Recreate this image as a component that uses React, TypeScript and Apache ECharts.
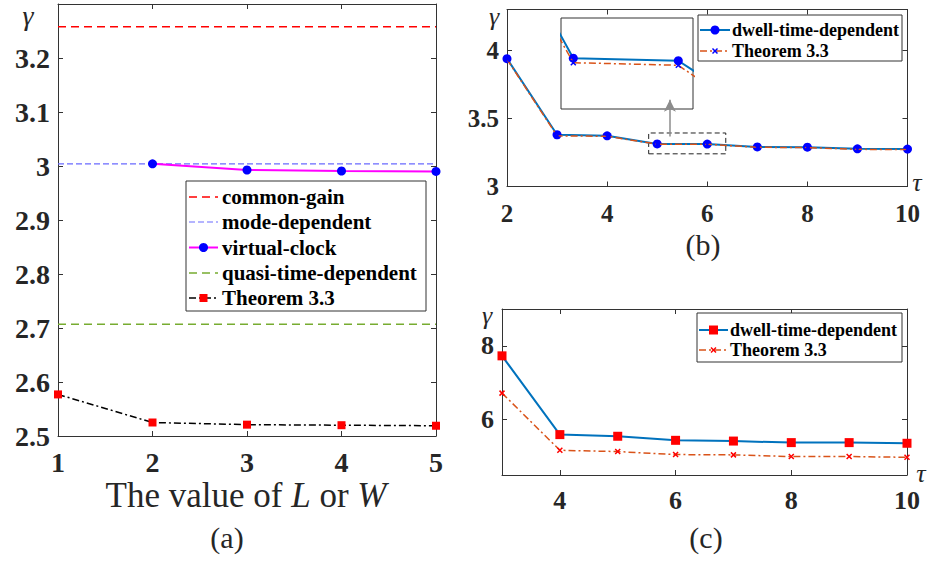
import React, { useEffect, useRef } from 'react';
import * as echarts from 'echarts';

// ---------- data ----------
// Panel (a)
const xA = [1, 2, 3, 4, 5];
const commonGainA = [3.258, 3.258, 3.258, 3.258, 3.258];
const modeDepA = [3.004, 3.004, 3.004, 3.004, 3.004];
const xVirtualA = [2, 3, 4, 5];
const virtualClockA = [3.004, 2.9926, 2.9907, 2.99];
const quasiA = [2.707, 2.707, 2.707, 2.707, 2.707];
const theoremA = [2.577, 2.525, 2.521, 2.52, 2.519];
const yTicksA = [2.5, 2.6, 2.7, 2.8, 2.9, 3, 3.1, 3.2];
const xTicksA = [1, 2, 3, 4, 5];

// Panel (b)
const tauB = [2, 3, 4, 5, 6, 7, 8, 9, 10];
const dwellB = [3.939, 3.38, 3.372, 3.3125, 3.3117, 3.2903, 3.289, 3.277, 3.275];
const theoremB = [3.934, 3.372, 3.369, 3.3111, 3.3103, 3.288, 3.286, 3.273, 3.271];
const yTicksB = [3, 3.5, 4];
const xTicksB = [2, 4, 6, 8, 10];
const zoomBoxX = [4.83, 6.37];
const zoomBoxY = [3.24, 3.393];
const insetX = [4.883, 6.14];
const insetY = [3.2967, 3.325];
const arrowX = 5.254;
const arrowY = [3.368, 3.6375];

// Panel (c)
const tauC = [3, 4, 5, 6, 7, 8, 9, 10];
const dwellC = [7.73, 5.595, 5.55, 5.44, 5.42, 5.378, 5.378, 5.36];
const theoremC = [6.72, 5.17, 5.135, 5.054, 5.045, 5.0, 5.0, 4.98];
const yTicksC = [6, 8];
const xTicksC = [4, 6, 8, 10];

const FONT = "'Liberation Serif'";
const AX = '#333333';
const TXT = '#262626';
const X_SYMBOL = 'path://M0,0L10,10M10,0L0,10';

const zip = (xs: number[], ys: number[]) => xs.map((x, i) => [x, ys[i]]);

function xAxisPair(grid: number, min: number, max: number, ticks: number[], fontSize: number, margin: number) {
  const common = {
    type: 'value', gridIndex: grid, min, max,
    axisLine: { show: true, onZero: false, lineStyle: { color: AX, width: 1 } },
    axisTick: { show: true, inside: true, length: 5, customValues: ticks, lineStyle: { color: AX } },
    splitLine: { show: false },
  };
  return [
    { ...common, position: 'bottom',
      axisLabel: { customValues: ticks, color: TXT, fontFamily: FONT, fontWeight: 'bold', fontSize, margin } },
    { ...common, position: 'top', axisLabel: { show: false } },
  ];
}

function yAxisPair(grid: number, min: number, max: number, ticks: number[], fontSize: number, margin: number) {
  const common = {
    type: 'value', gridIndex: grid, min, max,
    axisLine: { show: true, onZero: false, lineStyle: { color: AX, width: 1 } },
    axisTick: { show: true, inside: true, length: 5, customValues: ticks, lineStyle: { color: AX } },
    splitLine: { show: false },
  };
  return [
    { ...common, position: 'left',
      axisLabel: { customValues: ticks, color: TXT, fontFamily: FONT, fontWeight: 'bold', fontSize, margin } },
    { ...common, position: 'right', axisLabel: { show: false } },
  ];
}

type LegItem = {
  name: string; color: string; dash?: number[]; width: number;
  marker?: 'circle' | 'rect' | 'x'; markerColor?: string; markerSize?: number;
};

function legend(x: number, y: number, w: number, h: number, items: LegItem[], rowY: number[], lineX: [number, number], textX: number, fontSize: number) {
  const els: any[] = [{
    type: 'rect', shape: { x, y, width: w, height: h },
    style: { fill: '#fff', stroke: AX, lineWidth: 1 }, z: 100,
  }];
  items.forEach((it, i) => {
    const cy = rowY[i];
    els.push({
      type: 'line', shape: { x1: lineX[0], y1: cy, x2: lineX[1], y2: cy },
      style: { stroke: it.color, lineWidth: it.width, lineDash: it.dash || null }, z: 101,
    });
    const mx = (lineX[0] + lineX[1]) / 2;
    const s = it.markerSize || 8;
    if (it.marker === 'circle') {
      els.push({ type: 'circle', shape: { cx: mx, cy, r: s / 2 }, style: { fill: it.markerColor }, z: 102 });
    } else if (it.marker === 'rect') {
      els.push({ type: 'rect', shape: { x: mx - s / 2, y: cy - s / 2, width: s, height: s }, style: { fill: it.markerColor }, z: 102 });
    } else if (it.marker === 'x') {
      els.push({ type: 'line', shape: { x1: mx - s / 2, y1: cy - s / 2, x2: mx + s / 2, y2: cy + s / 2 }, style: { stroke: it.markerColor, lineWidth: 1.5 }, z: 102 });
      els.push({ type: 'line', shape: { x1: mx - s / 2, y1: cy + s / 2, x2: mx + s / 2, y2: cy - s / 2 }, style: { stroke: it.markerColor, lineWidth: 1.5 }, z: 102 });
    }
    els.push({
      type: 'text', x: textX, y: cy, z: 102,
      style: { text: it.name, fill: '#000', fontFamily: FONT, fontWeight: 'bold', fontSize, align: 'left', verticalAlign: 'middle' },
    });
  });
  return els;
}

function label(text: string, x: number, y: number, size: number, italic = false) {
  const style: any = { text, fill: TXT, fontFamily: FONT, fontSize: size, align: 'center', verticalAlign: 'middle' };
  if (italic) style.fontStyle = 'italic';
  return { type: 'text', x, y, z: 50, style };
}

export default function App() {
  const ref = useRef<HTMLDivElement>(null);

  useEffect(() => {
    if (!ref.current) return;
    const chart = echarts.init(ref.current, undefined, { renderer: 'svg' });

    const xAxis = [
      ...xAxisPair(0, 1, 5, xTicksA, 28, 12),
      ...xAxisPair(1, 2, 10, xTicksB, 25, 14),
      { type: 'value', gridIndex: 2, min: insetX[0], max: insetX[1], show: false },
      ...xAxisPair(3, 3, 10, xTicksC, 26, 12),
    ];
    const yAxis = [
      ...yAxisPair(0, 2.5, 3.3, yTicksA, 28, 8),
      ...yAxisPair(1, 3, 4.3, yTicksB, 25, 8),
      { type: 'value', gridIndex: 2, min: insetY[0], max: insetY[1], show: false },
      ...yAxisPair(3, 4.5, 9, yTicksC, 26, 8),
    ];

    const dashDot = [7, 3, 2, 3];

    const series: any[] = [
      // (a)
      { name: 'common-gain', type: 'line', xAxisIndex: 0, yAxisIndex: 0, data: zip(xA, commonGainA), symbol: 'none',
        lineStyle: { color: '#ff0000', width: 1.5, type: [8, 5] } },
      { name: 'mode-dependent', type: 'line', xAxisIndex: 0, yAxisIndex: 0, data: zip(xA, modeDepA), symbol: 'none',
        lineStyle: { color: '#6a6aff', width: 1.2, type: [6, 3] } },
      { name: 'virtual-clock', type: 'line', xAxisIndex: 0, yAxisIndex: 0, data: zip(xVirtualA, virtualClockA),
        symbol: 'circle', symbolSize: 9, itemStyle: { color: '#0000ff' },
        lineStyle: { color: '#ff00ff', width: 2 } },
      { name: 'quasi-time-dependent', type: 'line', xAxisIndex: 0, yAxisIndex: 0, data: zip(xA, quasiA), symbol: 'none',
        lineStyle: { color: '#77ac30', width: 1.5, type: [8, 5] } },
      { name: 'Theorem 3.3', type: 'line', xAxisIndex: 0, yAxisIndex: 0, data: zip(xA, theoremA),
        symbol: 'rect', symbolSize: 8, itemStyle: { color: '#ff0000' },
        lineStyle: { color: '#000000', width: 1.5, type: dashDot } },
      // (b)
      { name: 'dwell-time-dependent', type: 'line', xAxisIndex: 2, yAxisIndex: 2, data: zip(tauB, dwellB),
        symbol: 'circle', symbolSize: 9, itemStyle: { color: '#0000ff' }, z: 3,
        lineStyle: { color: '#0072bd', width: 2 },
        markArea: { silent: true,
          itemStyle: { color: 'rgba(0,0,0,0)', borderColor: '#222', borderWidth: 1, borderType: [5, 3] },
          data: [[{ coord: [zoomBoxX[0], zoomBoxY[0]] }, { coord: [zoomBoxX[1], zoomBoxY[1]] }]] },
        markLine: { silent: true, symbol: ['none', 'arrow'], symbolSize: [9, 12],
          lineStyle: { color: '#8c8c8c', type: 'solid', width: 1.5 }, label: { show: false },
          data: [[{ coord: [arrowX, arrowY[0]] }, { coord: [arrowX, arrowY[1]] }]] } },
      { name: 'Theorem 3.3 (b)', type: 'line', xAxisIndex: 2, yAxisIndex: 2, data: zip(tauB, theoremB),
        symbol: X_SYMBOL, symbolSize: 5, itemStyle: { color: 'rgba(0,0,0,0)', borderColor: '#0000ff', borderWidth: 1.5 }, z: 4,
        lineStyle: { color: '#d95319', width: 1.5, type: dashDot } },
      // (b) inset
      { name: 'dwell inset', type: 'line', xAxisIndex: 4, yAxisIndex: 4, data: zip(tauB, dwellB), clip: true,
        symbol: 'circle', symbolSize: 9, itemStyle: { color: '#0000ff' }, z: 20,
        lineStyle: { color: '#0072bd', width: 2 } },
      { name: 'theorem inset', type: 'line', xAxisIndex: 4, yAxisIndex: 4, data: zip(tauB, theoremB), clip: true,
        symbol: X_SYMBOL, symbolSize: 5, itemStyle: { color: 'rgba(0,0,0,0)', borderColor: '#0000ff', borderWidth: 1.5 }, z: 21,
        lineStyle: { color: '#d95319', width: 1.5, type: dashDot } },
      // (c)
      { name: 'dwell-time-dependent (c)', type: 'line', xAxisIndex: 5, yAxisIndex: 5, data: zip(tauC, dwellC),
        symbol: 'rect', symbolSize: 9, itemStyle: { color: '#ff0000' },
        lineStyle: { color: '#0072bd', width: 2 } },
      { name: 'Theorem 3.3 (c)', type: 'line', xAxisIndex: 5, yAxisIndex: 5, data: zip(tauC, theoremC),
        symbol: X_SYMBOL, symbolSize: 5, itemStyle: { color: 'rgba(0,0,0,0)', borderColor: '#ff0000', borderWidth: 1.5 },
        lineStyle: { color: '#d95319', width: 1.5, type: dashDot } },
    ];

    const graphic: any[] = [
      ...legend(186, 181, 240, 130, [
        { name: 'common-gain', color: '#ff0000', dash: [8, 5], width: 1.5 },
        { name: 'mode-dependent', color: '#6a6aff', dash: [6, 3], width: 1.2 },
        { name: 'virtual-clock', color: '#ff00ff', width: 2, marker: 'circle', markerColor: '#0000ff', markerSize: 9 },
        { name: 'quasi-time-dependent', color: '#77ac30', dash: [8, 5], width: 1.5 },
        { name: 'Theorem 3.3', color: '#000000', dash: dashDot, width: 1.5, marker: 'rect', markerColor: '#ff0000', markerSize: 8 },
      ], [197, 222, 247.5, 273, 298], [189, 218], 222, 21),
      ...legend(698, 15, 204, 46, [
        { name: 'dwell-time-dependent', color: '#0072bd', width: 2, marker: 'circle', markerColor: '#0000ff', markerSize: 9 },
        { name: 'Theorem 3.3', color: '#d95319', dash: dashDot, width: 1.5, marker: 'x', markerColor: '#0000ff', markerSize: 5 },
      ], [30, 51], [700, 730], 732, 18),
      ...legend(697, 313, 205, 49, [
        { name: 'dwell-time-dependent', color: '#0072bd', width: 2, marker: 'rect', markerColor: '#ff0000', markerSize: 9 },
        { name: 'Theorem 3.3', color: '#d95319', dash: dashDot, width: 1.5, marker: 'x', markerColor: '#ff0000', markerSize: 5 },
      ], [330, 350], [699, 728], 730, 18),
      label('γ', 28, 15, 28, true),
      label('γ', 494, 16, 26, true),
      label('τ', 917, 182, 26, true),
      label('γ', 487, 315, 26, true),
      label('τ', 921, 473, 26, true),
      label('(a)', 227, 537, 30),
      label('(b)', 703, 244, 30),
      label('(c)', 706, 537, 30),
      {
        type: 'text', x: 246, y: 495, z: 50,
        style: {
          text: '{n|The value of }{i|L}{n| or }{i|W}',
          fill: TXT, align: 'center', verticalAlign: 'middle', fontFamily: FONT, fontSize: 35,
          rich: {
            n: { fontFamily: FONT, fontSize: 35, fill: TXT },
            i: { fontFamily: FONT, fontSize: 35, fill: TXT, fontStyle: 'italic' },
          },
        },
      },
    ];

    chart.setOption({
      animation: false,
      grid: [
        { left: 58, top: 4, width: 378, height: 432 },
        { left: 507, top: 9.5, width: 400.5, height: 177 },
        { left: 561, top: 18, width: 132, height: 91, show: true, borderColor: AX, borderWidth: 1, backgroundColor: '#fff' },
        { left: 502, top: 309, width: 405, height: 166 },
      ],
      xAxis,
      yAxis,
      series,
      graphic,
    });

    return () => chart.dispose();
  }, []);

  return <div ref={ref} style={{ position: 'fixed', left: 0, top: 0, width: 932, height: 563, background: '#fff' }} />;
}
